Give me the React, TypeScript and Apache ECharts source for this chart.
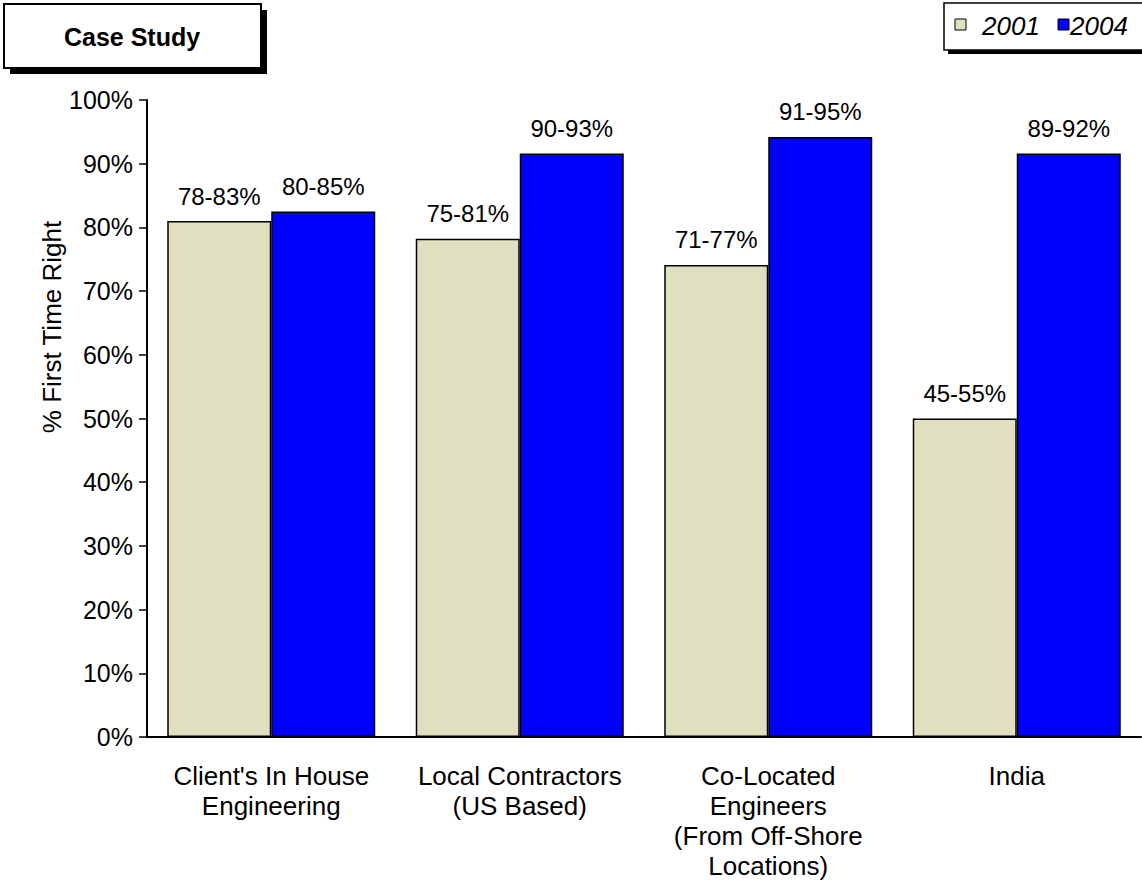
import React, { useEffect, useRef } from "react";
import * as echarts from "echarts";

// Categories along the x axis (multi-line labels)
const categories = [
  "Client's In House\nEngineering",
  "Local Contractors\n(US Based)",
  "Co-Located\nEngineers\n(From Off-Shore\nLocations)",
  "India",
];

// Bar heights (% first time right) and the range label shown above each bar
const values2001 = [81, 78.2, 74.1, 50];
const values2004 = [82.5, 91.6, 94.2, 91.6];
const labels2001 = ["78-83%", "75-81%", "71-77%", "45-55%"];
const labels2004 = ["80-85%", "90-93%", "91-95%", "89-92%"];

const seriesNames = ["2001", "2004"];
const seriesColors = ["#E0E0C0", "#0000FF"];

const FONT = "'Liberation Sans', Arial, sans-serif";

export default function App() {
  const ref = useRef<HTMLDivElement>(null);

  useEffect(() => {
    if (!ref.current) return;
    const chart = echarts.init(ref.current, undefined, { renderer: "svg" });

    const makeSeries = (idx: number, data: number[], labels: string[]) => ({
      name: seriesNames[idx],
      type: "bar",
      data,
      barGap: "0%",
      barCategoryGap: "16.3%",
      itemStyle: { color: seriesColors[idx], borderColor: "#000", borderWidth: 1.5 },
      label: {
        show: true,
        position: "top",
        distance: 13,
        fontFamily: FONT,
        fontSize: 24,
        color: "#000",
        formatter: (p: any) => labels[p.dataIndex],
      },
    });

    chart.setOption({
      animation: false,
      backgroundColor: "#fff",
      grid: { left: 147, right: 1, top: 100, bottom: 153, containLabel: false },
      xAxis: {
        type: "category",
        data: categories,
        axisLine: { show: true, lineStyle: { color: "#000", width: 2 } },
        axisTick: { show: false },
        axisLabel: {
          interval: 0,
          margin: 24,
          fontFamily: FONT,
          fontSize: 26,
          lineHeight: 30,
          color: "#000",
          align: "center",
        },
      },
      yAxis: {
        type: "value",
        min: 0,
        max: 100,
        interval: 10,
        axisLine: { show: true, lineStyle: { color: "#000", width: 2 } },
        axisTick: { show: true, length: 8, lineStyle: { color: "#000", width: 1.5 } },
        splitLine: { show: false },
        axisLabel: {
          margin: 14,
          fontFamily: FONT,
          fontSize: 25,
          color: "#000",
          formatter: "{value}%",
        },
      },
      series: [
        makeSeries(0, values2001, labels2001),
        makeSeries(1, values2004, labels2004),
      ],
      graphic: [
        // y-axis title
        {
          type: "text",
          x: 52,
          y: 327,
          rotation: Math.PI / 2,
          style: {
            text: "% First Time Right",
            fontFamily: FONT,
            fontSize: 26,
            fill: "#000",
            textAlign: "center",
            textVerticalAlign: "middle",
          },
        },
        // "Case Study" box with drop shadow
        {
          type: "rect",
          shape: { x: 10, y: 10, width: 257, height: 64 },
          style: { fill: "#000" },
        },
        {
          type: "rect",
          shape: { x: 4, y: 4, width: 257, height: 64 },
          style: { fill: "#fff", stroke: "#000", lineWidth: 2 },
        },
        {
          type: "text",
          x: 132,
          y: 37,
          style: {
            text: "Case Study",
            fontFamily: FONT,
            fontWeight: "bold",
            fontSize: 25,
            fill: "#000",
            textAlign: "center",
            textVerticalAlign: "middle",
          },
        },
        // legend box with drop shadow
        {
          type: "rect",
          shape: { x: 948, y: 7, width: 220, height: 47 },
          style: { fill: "#000" },
        },
        {
          type: "rect",
          shape: { x: 944, y: 3, width: 220, height: 47 },
          style: { fill: "#fff", stroke: "#000", lineWidth: 1.5 },
        },
        {
          type: "rect",
          shape: { x: 955, y: 19, width: 11, height: 11 },
          style: { fill: seriesColors[0], stroke: "#000", lineWidth: 1 },
        },
        {
          type: "text",
          x: 982,
          y: 26,
          style: {
            text: seriesNames[0],
            fontFamily: FONT,
            fontStyle: "italic",
            fontSize: 26,
            fill: "#000",
            textAlign: "left",
            textVerticalAlign: "middle",
          },
        },
        {
          type: "rect",
          shape: { x: 1058, y: 19, width: 11, height: 11 },
          style: { fill: seriesColors[1], stroke: "#000", lineWidth: 1 },
        },
        {
          type: "text",
          x: 1070,
          y: 26,
          style: {
            text: seriesNames[1],
            fontFamily: FONT,
            fontStyle: "italic",
            fontSize: 26,
            fill: "#000",
            textAlign: "left",
            textVerticalAlign: "middle",
          },
        },
      ],
    });

    return () => chart.dispose();
  }, []);

  return (
    <div
      ref={ref}
      style={{ position: "absolute", left: 0, top: 0, width: 1142, height: 890 }}
    />
  );
}
